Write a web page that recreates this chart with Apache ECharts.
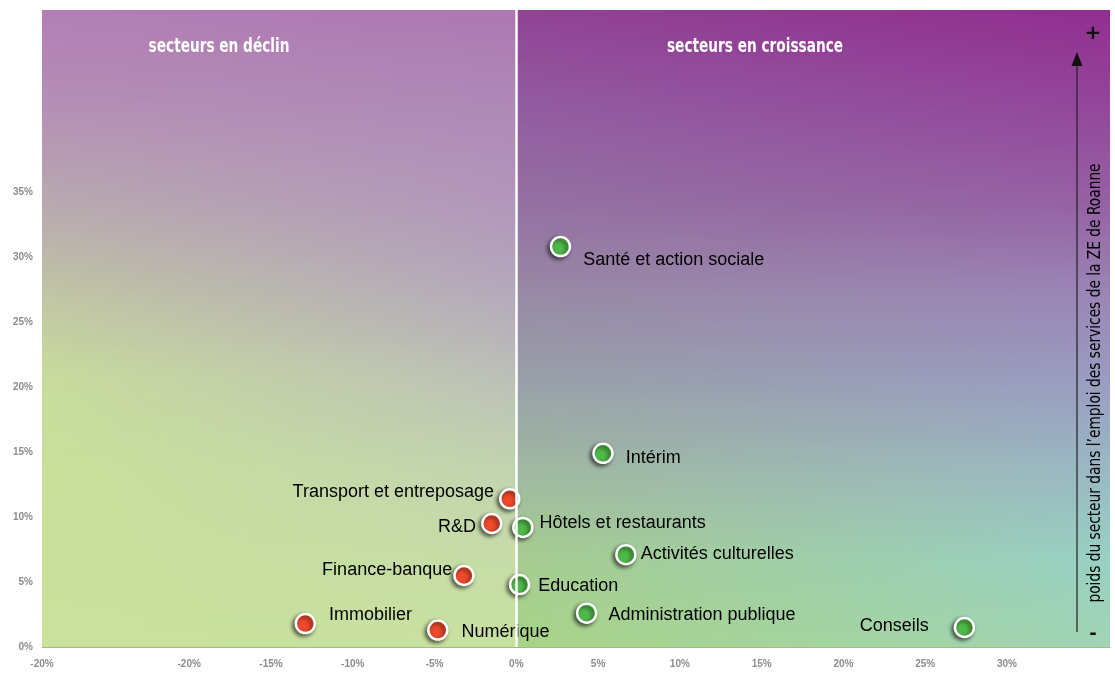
<!DOCTYPE html>
<html>
<head>
<meta charset="utf-8">
<script src="https://cdn.jsdelivr.net/npm/echarts@6/dist/echarts.min.js"></script>
<style>
  html, body { margin: 0; padding: 0; background: #fff; }
  #chart { width: 1115px; height: 686px; }
</style>
</head>
<body>
<div id="chart"></div>
<script>
// secteurs en déclin (évolution %, poids %)
const declineNames = ['Transport et entreposage', 'R&D', 'Finance-banque', 'Immobilier', 'Numérique'];
const declineGrowth = [-0.4, -1.5, -3.2, -12.9, -4.8];
const declineWeight = [11.4, 9.5, 5.5, 1.8, 1.3];

// secteurs en croissance
const growthNames = ['Santé et action sociale', 'Intérim', 'Hôtels et restaurants', 'Activités culturelles',
  'Education', 'Administration publique', 'Conseils'];
const growthGrowth = [2.7, 5.3, 0.4, 6.7, 0.2, 4.3, 27.4];
const growthWeight = [30.8, 14.9, 9.2, 7.1, 4.8, 2.6, 1.5];

const xTickValues = [-29, -20, -15, -10, -5, 0, 5, 10, 15, 20, 25, 30];
const xTickLabels = ['-20%', '-20%', '-15%', '-10%', '-5%', '0%', '5%', '10%', '15%', '20%', '25%', '30%'];
const yTickValues = [0, 5, 10, 15, 20, 25, 30, 35];
const yTickLabels = ['0%', '5%', '10%', '15%', '20%', '25%', '30%', '35%'];

// where each label sits around its point: [position, dx, dy]
const labelPlacement = {
  'Transport et entreposage': ['left', 0, -7],
  'R&D': ['left', 0, 4],
  'Finance-banque': ['left', 4, -5],
  'Immobilier': ['right', 8, -9],
  'Numérique': ['right', 8, 2],
  'Santé et action sociale': ['right', 7, 13],
  'Intérim': ['right', 7, 5],
  'Hôtels et restaurants': ['right', 1, -4],
  'Activités culturelles': ['right', -1, -1],
  'Education': ['right', 3, 1],
  'Administration publique': ['right', 6, 2],
  'Conseils': ['left', -20, -1]
};

const xMin = -29, xMax = 36.3, yMin = 0, yMax = 49;
const G = { left: 42, top: 10, width: 1068, height: 637 };

// background colours per row: [y fraction, left edge, just left of 0, just right of 0, right edge]
const bgRows = [
  [0.00, '#b27eb6', '#ad77b1', '#914294', '#922e90'],
  [0.14, '#b48eb5', '#ae88b8', '#925aa0', '#93449a'],
  [0.30, '#b8a8b0', '#b296bb', '#9470a2', '#9660a4'],
  [0.44, '#c0c4a4', '#b4a8bc', '#9888a4', '#9a84b6'],
  [0.58, '#c8dc9c', '#bcc0b8', '#98a0a8', '#9a9cc2'],
  [0.72, '#c8e09a', '#c2d4b0', '#a0b8a0', '#9ab8c4'],
  [0.86, '#c8e09a', '#c6dca8', '#a6cc90', '#98d0c4'],
  [1.00, '#c9e19b', '#c8e0a0', '#a8d488', '#a0d4b4']
];

function hex(c) {
  return [parseInt(c.slice(1, 3), 16), parseInt(c.slice(3, 5), 16), parseInt(c.slice(5, 7), 16)];
}
function mix(a, b, t) {
  const A = hex(a), B = hex(b);
  return 'rgb(' + A.map((v, i) => Math.round(v + (B[i] - v) * t)).join(',') + ')';
}
function rowColors(f) {
  let i = 0;
  while (i < bgRows.length - 2 && f > bgRows[i + 1][0]) i++;
  const r0 = bgRows[i], r1 = bgRows[i + 1];
  const t = Math.min(1, Math.max(0, (f - r0[0]) / (r1[0] - r0[0])));
  return [1, 2, 3, 4].map(k => mix(r0[k], r1[k], t));
}

const split = (0 - xMin) / (xMax - xMin);
const bgStrips = [];
const step = 4;
for (let y = 0; y < G.height; y += step) {
  const c = rowColors((y + step / 2) / G.height);
  bgStrips.push({
    type: 'rect',
    silent: true,
    z: -10,
    shape: { x: G.left, y: G.top + y, width: G.width, height: Math.min(step + 1, G.height - y) },
    style: {
      fill: {
        type: 'linear', x: 0, y: 0, x2: 1, y2: 0,
        colorStops: [
          { offset: 0, color: c[0] },
          { offset: split, color: c[1] },
          { offset: split, color: c[2] },
          { offset: 1, color: c[3] }
        ]
      }
    }
  });
}

function makeData(names, xs, ys) {
  return names.map((n, i) => {
    const p = labelPlacement[n];
    return {
      name: n,
      value: [xs[i], ys[i]],
      label: { position: p[0], offset: [p[1], p[2]] }
    };
  });
}

const pointStyle = (color) => ({
  color: color,
  opacity: 1,
  borderColor: '#fff',
  borderWidth: 2.5,
  shadowColor: 'rgba(0,0,0,0.6)',
  shadowBlur: 4,
  shadowOffsetX: -2,
  shadowOffsetY: 2
});

const pointLabel = {
  show: true,
  formatter: '{b}',
  color: '#000',
  fontSize: 18,
  fontFamily: 'Liberation Sans, Arial, sans-serif'
};

const headFont = 'DejaVu Sans Condensed, sans-serif';

const chart = echarts.init(document.getElementById('chart'));
chart.setOption({
  animation: false,
  backgroundColor: '#fff',
  grid: { left: G.left, top: G.top, width: G.width, height: G.height },
  xAxis: {
    type: 'value',
    min: xMin,
    max: xMax,
    splitLine: { show: false },
    axisLine: { show: true, onZero: false, lineStyle: { color: '#9cbf7a', width: 1 } },
    axisTick: { show: false },
    axisLabel: {
      customValues: xTickValues,
      formatter: (v) => xTickLabels[xTickValues.indexOf(v)],
      color: '#8c8c8c',
      fontSize: 10,
      fontWeight: 'bold',
      fontFamily: 'Liberation Sans, Arial, sans-serif',
      margin: 12
    }
  },
  yAxis: {
    type: 'value',
    min: yMin,
    max: yMax,
    splitLine: { show: false },
    axisLine: { show: false },
    axisTick: { show: false },
    axisLabel: {
      customValues: yTickValues,
      formatter: (v) => yTickLabels[yTickValues.indexOf(v)],
      color: '#8c8c8c',
      fontSize: 10,
      fontWeight: 'bold',
      fontFamily: 'Liberation Sans, Arial, sans-serif',
      margin: 9
    }
  },
  graphic: bgStrips.concat([
    {
      type: 'text', x: 219, y: 47, scaleX: 0.8, silent: true,
      style: {
        text: 'secteurs en déclin', fill: '#fff', fontSize: 19, fontWeight: 'bold',
        fontFamily: headFont, align: 'center', verticalAlign: 'middle'
      }
    },
    {
      type: 'text', x: 755, y: 47, scaleX: 0.8, silent: true,
      style: {
        text: 'secteurs en croissance', fill: '#fff', fontSize: 19, fontWeight: 'bold',
        fontFamily: headFont, align: 'center', verticalAlign: 'middle'
      }
    },
    {
      type: 'line', silent: true,
      shape: { x1: 1077, y1: 632, x2: 1077, y2: 64 },
      style: { stroke: '#222', lineWidth: 1.2 }
    },
    {
      type: 'polygon', silent: true,
      shape: { points: [[1077, 52], [1071.5, 66], [1082.5, 66]] },
      style: { fill: '#111' }
    },
    {
      type: 'text', x: 1096, y: 383, rotation: Math.PI / 2, scaleX: 0.9, silent: true,
      style: {
        text: 'poids du secteur dans l’emploi des services de la ZE de Roanne',
        fill: '#000', fontSize: 17, fontFamily: headFont,
        align: 'center', verticalAlign: 'middle'
      }
    },
    {
      type: 'text', x: 1093, y: 34, silent: true,
      style: { text: '+', fill: '#111', fontSize: 20, fontWeight: 'bold', fontFamily: 'DejaVu Sans', align: 'center', verticalAlign: 'middle' }
    },
    {
      type: 'text', x: 1093, y: 634, silent: true,
      style: { text: '-', fill: '#111', fontSize: 18, fontWeight: 'bold', fontFamily: 'DejaVu Sans', align: 'center', verticalAlign: 'middle' }
    }
  ]),
  series: [
    {
      name: 'secteurs en déclin',
      type: 'scatter',
      symbolSize: 19,
      itemStyle: pointStyle('#ee4a2b'),
      label: pointLabel,
      data: makeData(declineNames, declineGrowth, declineWeight),
      markLine: {
        silent: true,
        symbol: 'none',
        label: { show: false },
        lineStyle: { color: '#fff', width: 2.5, type: 'solid' },
        data: [{ xAxis: 0 }]
      }
    },
    {
      name: 'secteurs en croissance',
      type: 'scatter',
      symbolSize: 19,
      itemStyle: pointStyle('#4fb948'),
      label: pointLabel,
      data: makeData(growthNames, growthGrowth, growthWeight)
    }
  ]
});
</script>
</body>
</html>
